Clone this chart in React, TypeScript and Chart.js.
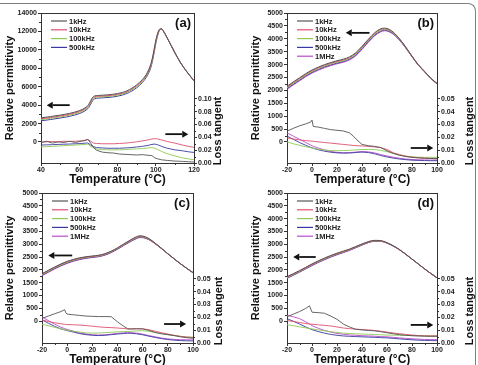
import React, { useEffect, useRef } from "react";
import { Chart, registerables } from "chart.js";
Chart.register(...registerables);

const FONT = "'Liberation Sans', Arial, sans-serif";

const FREQS_4 = ["1kHz", "10kHz", "100kHz", "500kHz"];
const FREQS_5 = ["1kHz", "10kHz", "100kHz", "500kHz", "1MHz"];
const COLORS = ["#555555", "#e0506e", "#8fcb52", "#3b3aa3", "#b94cc9"];

// ---------- Panel (a) ----------
const aT = [40, 45, 50, 55, 60, 63, 65, 66, 67, 68, 70, 75, 80, 85, 90, 93, 95, 97, 98, 99, 100, 101, 102, 103, 104, 106, 108, 110, 113, 116, 120];
const aEps1k = [2620, 2760, 2920, 3110, 3400, 3700, 4100, 4500, 4850, 5000, 5050, 5120, 5260, 5560, 6200, 6780, 7320, 8200, 8900, 9900, 11000, 11800, 12250, 12300, 12050, 11300, 10500, 9700, 8600, 7700, 6650];
const aEps10k = [2520, 2660, 2820, 3010, 3300, 3600, 3980, 4380, 4740, 4900, 4960, 5030, 5170, 5470, 6100, 6680, 7220, 8080, 8780, 9780, 10900, 11720, 12200, 12280, 12040, 11290, 10490, 9690, 8600, 7700, 6650];
const aEps100k = [2420, 2560, 2720, 2910, 3200, 3500, 3870, 4260, 4620, 4800, 4870, 4940, 5080, 5380, 6000, 6580, 7120, 7960, 8660, 9660, 10800, 11650, 12150, 12260, 12030, 11280, 10480, 9680, 8590, 7690, 6640];
const aEps500k = [2300, 2440, 2600, 2790, 3080, 3380, 3740, 4120, 4480, 4680, 4760, 4830, 4970, 5270, 5880, 6460, 7000, 7820, 8520, 9520, 10680, 11560, 12100, 12240, 12020, 11270, 10470, 9670, 8580, 7680, 6630];

const aLT = [40, 43, 46, 49, 52, 55, 58, 61, 63, 64.5, 66, 67.5, 69, 72, 75, 78, 81, 84, 87, 90, 93, 96, 98, 99.5, 101, 103, 106, 110, 114, 117, 120];
const aTan1k = [0.032, 0.034, 0.031, 0.033, 0.032, 0.034, 0.032, 0.034, 0.035, 0.037, 0.031, 0.024, 0.020, 0.017, 0.016, 0.0155, 0.014, 0.0135, 0.013, 0.0125, 0.013, 0.012, 0.0115, 0.008, 0.0065, 0.005, 0.004, 0.003, 0.0025, 0.002, 0.0015];
const aTan10k = [0.0325, 0.033, 0.0335, 0.033, 0.034, 0.0335, 0.034, 0.0345, 0.0355, 0.0365, 0.034, 0.031, 0.0305, 0.030, 0.030, 0.030, 0.0305, 0.031, 0.032, 0.033, 0.0345, 0.036, 0.0375, 0.038, 0.0375, 0.036, 0.0335, 0.031, 0.028, 0.026, 0.0245];
const aTan100k = [0.025, 0.0255, 0.026, 0.0265, 0.027, 0.0275, 0.028, 0.0285, 0.029, 0.0295, 0.026, 0.0235, 0.022, 0.021, 0.0205, 0.0205, 0.0205, 0.021, 0.0215, 0.022, 0.0225, 0.0235, 0.024, 0.023, 0.021, 0.018, 0.0145, 0.011, 0.008, 0.0065, 0.005];
const aTan500k = [0.028, 0.0283, 0.0286, 0.029, 0.0293, 0.0296, 0.030, 0.0303, 0.031, 0.0312, 0.028, 0.0255, 0.024, 0.0235, 0.023, 0.023, 0.023, 0.0235, 0.024, 0.025, 0.026, 0.0275, 0.029, 0.0295, 0.0285, 0.026, 0.023, 0.0205, 0.019, 0.0175, 0.0165];

// ---------- Panel (b) ----------
const bT = [-20, -15, -10, -5, 0, 5, 10, 15, 20, 25, 30, 35, 40, 45, 50, 55, 58, 60, 65, 70, 75, 80, 85, 90, 95, 100];
const bEps1k = [2160, 2330, 2490, 2650, 2790, 2900, 3000, 3080, 3150, 3210, 3300, 3460, 3710, 3980, 4230, 4390, 4410, 4400, 4260, 4000, 3680, 3330, 3000, 2740, 2480, 2270];
const bEps10k = [2130, 2300, 2460, 2620, 2760, 2870, 2970, 3050, 3120, 3180, 3270, 3430, 3680, 3950, 4200, 4360, 4385, 4375, 4240, 3990, 3670, 3320, 2995, 2735, 2475, 2265];
const bEps100k = [2100, 2270, 2430, 2590, 2730, 2840, 2940, 3020, 3090, 3150, 3240, 3400, 3650, 3920, 4170, 4330, 4360, 4350, 4220, 3975, 3660, 3315, 2990, 2730, 2470, 2260];
const bEps500k = [2070, 2240, 2400, 2560, 2700, 2810, 2910, 2990, 3060, 3120, 3210, 3370, 3620, 3890, 4140, 4300, 4335, 4325, 4200, 3960, 3650, 3310, 2985, 2725, 2465, 2255];
const bEps1M = [2040, 2210, 2370, 2530, 2670, 2780, 2880, 2960, 3030, 3090, 3180, 3340, 3590, 3860, 4110, 4270, 4310, 4300, 4180, 3945, 3640, 3305, 2980, 2720, 2460, 2250];

const bLT = [-20, -15, -10, -5, -1, 0, 1, 5, 10, 15, 20, 25, 30, 33, 36, 40, 45, 50, 55, 60, 65, 70, 75, 80, 85, 90, 95, 100];
const bTan1k = [0.0248, 0.027, 0.029, 0.0305, 0.032, 0.0335, 0.0285, 0.028, 0.027, 0.026, 0.0255, 0.025, 0.0235, 0.021, 0.018, 0.0145, 0.0135, 0.013, 0.012, 0.0095, 0.0075, 0.006, 0.005, 0.0044, 0.004, 0.0037, 0.0035, 0.0034];
const bTan10k = [0.0195, 0.0188, 0.018, 0.0175, 0.0171, 0.017, 0.0169, 0.0165, 0.016, 0.0155, 0.015, 0.0145, 0.014, 0.0137, 0.0135, 0.0133, 0.013, 0.0125, 0.012, 0.0105, 0.008, 0.0065, 0.0053, 0.0045, 0.0041, 0.0038, 0.0036, 0.0034];
const bTan100k = [0.0165, 0.015, 0.0138, 0.0127, 0.0119, 0.0117, 0.0115, 0.0108, 0.0101, 0.0097, 0.0096, 0.0097, 0.0099, 0.0101, 0.0103, 0.0105, 0.0106, 0.0105, 0.0098, 0.0088, 0.0075, 0.0063, 0.0054, 0.0048, 0.0045, 0.0044, 0.0044, 0.0044];
const bTan500k = [0.021, 0.0185, 0.016, 0.0138, 0.0122, 0.0118, 0.0115, 0.0103, 0.0092, 0.0084, 0.0079, 0.0077, 0.0078, 0.008, 0.0083, 0.0085, 0.0082, 0.0072, 0.0058, 0.0047, 0.0038, 0.0031, 0.0026, 0.0022, 0.002, 0.0019, 0.0018, 0.0018];
const bTan1M = [0.0235, 0.021, 0.0185, 0.016, 0.014, 0.0135, 0.013, 0.0117, 0.0102, 0.009, 0.0083, 0.008, 0.0081, 0.0083, 0.0086, 0.0089, 0.0087, 0.0079, 0.0066, 0.0055, 0.0045, 0.0037, 0.0031, 0.0027, 0.0025, 0.0024, 0.0023, 0.0023];

// ---------- Panel (c) ----------
const cT = [-20, -15, -10, -5, 0, 5, 10, 15, 20, 25, 30, 35, 40, 45, 50, 55, 58, 60, 65, 70, 75, 80, 85, 90, 95, 100];
const cEps1k = [1850, 1980, 2110, 2230, 2330, 2410, 2470, 2510, 2540, 2570, 2630, 2730, 2860, 3010, 3160, 3290, 3330, 3320, 3220, 3040, 2840, 2630, 2430, 2240, 2060, 1890];
const cEps10k = [1830, 1960, 2090, 2210, 2310, 2390, 2450, 2495, 2525, 2555, 2615, 2715, 2845, 2995, 3140, 3270, 3310, 3302, 3208, 3032, 2836, 2628, 2429, 2239, 2059, 1889];
const cEps100k = [1810, 1940, 2070, 2190, 2290, 2370, 2432, 2478, 2510, 2540, 2600, 2700, 2830, 2980, 3122, 3250, 3292, 3286, 3196, 3025, 2832, 2626, 2428, 2238, 2058, 1888];
const cEps500k = [1790, 1920, 2050, 2170, 2270, 2352, 2415, 2462, 2495, 2525, 2585, 2685, 2815, 2965, 3104, 3232, 3275, 3270, 3185, 3018, 2828, 2624, 2427, 2237, 2057, 1887];
const cEps1M = [1770, 1900, 2030, 2150, 2250, 2334, 2398, 2446, 2480, 2510, 2570, 2670, 2800, 2950, 3088, 3215, 3258, 3255, 3174, 3011, 2824, 2622, 2426, 2236, 2056, 1886];

const cLT = [-20, -15, -10, -5, -2, -1, 0, 5, 10, 15, 20, 25, 30, 35, 40, 45, 48, 50, 55, 60, 65, 70, 75, 80, 85, 90, 95, 100];
const cTan1k = [0.0192, 0.021, 0.0228, 0.0245, 0.026, 0.0235, 0.0225, 0.022, 0.0215, 0.021, 0.0208, 0.0206, 0.0206, 0.0205, 0.0165, 0.013, 0.0112, 0.011, 0.0111, 0.011, 0.0098, 0.0082, 0.0072, 0.0065, 0.0058, 0.0048, 0.0041, 0.0037];
const cTan10k = [0.018, 0.0168, 0.0158, 0.015, 0.0146, 0.0145, 0.0144, 0.0142, 0.014, 0.0136, 0.0131, 0.0126, 0.0122, 0.012, 0.0117, 0.0113, 0.011, 0.0109, 0.0111, 0.0111, 0.0103, 0.0092, 0.008, 0.007, 0.006, 0.0052, 0.0046, 0.0042];
const cTan100k = [0.0146, 0.0135, 0.0122, 0.011, 0.0104, 0.0102, 0.01, 0.0092, 0.0085, 0.0079, 0.0077, 0.0078, 0.0081, 0.0084, 0.0087, 0.0089, 0.009, 0.0091, 0.0094, 0.0096, 0.0091, 0.0082, 0.0073, 0.0065, 0.0058, 0.0052, 0.0048, 0.0046];
const cTan500k = [0.018, 0.0155, 0.013, 0.011, 0.0102, 0.01, 0.0097, 0.0085, 0.0073, 0.0065, 0.006, 0.0058, 0.006, 0.0065, 0.007, 0.0074, 0.0076, 0.0076, 0.0072, 0.0064, 0.0053, 0.0043, 0.0034, 0.0027, 0.0022, 0.0019, 0.0017, 0.0016];
const cTan1M = [0.0205, 0.0175, 0.0147, 0.0123, 0.0113, 0.011, 0.0106, 0.0092, 0.0079, 0.007, 0.0064, 0.0062, 0.0064, 0.0069, 0.0075, 0.0079, 0.0081, 0.0081, 0.0077, 0.0069, 0.0058, 0.0048, 0.0039, 0.0032, 0.0028, 0.0026, 0.0025, 0.0024];

// ---------- Panel (d) ----------
const dT = [-20, -15, -10, -5, 0, 5, 10, 15, 20, 25, 30, 35, 40, 45, 50, 55, 58, 60, 65, 70, 75, 80, 85, 90, 95, 100];
const dEps1k = [1730, 1850, 1970, 2100, 2230, 2350, 2460, 2560, 2650, 2730, 2810, 2910, 3010, 3100, 3150, 3140, 3100, 3060, 2940, 2790, 2610, 2420, 2230, 2040, 1860, 1690];
const dEps10k = [1710, 1830, 1950, 2080, 2210, 2330, 2440, 2540, 2630, 2712, 2794, 2895, 2996, 3088, 3138, 3130, 3093, 3054, 2936, 2787, 2608, 2419, 2229, 2039, 1859, 1689];
const dEps100k = [1695, 1815, 1935, 2063, 2193, 2313, 2423, 2523, 2614, 2697, 2780, 2882, 2984, 3077, 3128, 3122, 3087, 3049, 2932, 2784, 2606, 2418, 2228, 2038, 1858, 1688];
const dEps500k = [1680, 1800, 1920, 2048, 2177, 2297, 2407, 2508, 2600, 2683, 2767, 2870, 2973, 3067, 3119, 3115, 3081, 3044, 2928, 2781, 2604, 2417, 2227, 2037, 1857, 1687];
const dEps1M = [1665, 1785, 1905, 2033, 2162, 2282, 2392, 2493, 2586, 2670, 2755, 2859, 2963, 3058, 3111, 3108, 3076, 3040, 2925, 2778, 2602, 2416, 2226, 2036, 1856, 1686];

const dLT = [-20, -15, -10, -5, -2, -1, 0, 5, 10, 15, 20, 25, 30, 35, 40, 45, 50, 55, 60, 65, 70, 75, 80, 85, 90, 95, 100];
const dTan1k = [0.0205, 0.0225, 0.0245, 0.027, 0.029, 0.0265, 0.024, 0.0237, 0.0232, 0.021, 0.0185, 0.0148, 0.0125, 0.0107, 0.0102, 0.0098, 0.0095, 0.0088, 0.008, 0.0072, 0.0065, 0.006, 0.0057, 0.0055, 0.0053, 0.0052, 0.0052];
const dTan10k = [0.0175, 0.0168, 0.016, 0.0152, 0.0148, 0.0147, 0.0146, 0.0142, 0.0137, 0.0133, 0.0125, 0.0117, 0.0112, 0.0108, 0.0105, 0.0102, 0.0098, 0.0092, 0.0085, 0.0078, 0.0073, 0.0067, 0.0062, 0.0058, 0.0056, 0.0055, 0.0055];
const dTan100k = [0.0142, 0.0135, 0.0126, 0.0118, 0.0113, 0.0111, 0.011, 0.0102, 0.0095, 0.0088, 0.0082, 0.0077, 0.0074, 0.0072, 0.007, 0.0068, 0.0066, 0.0064, 0.0062, 0.0061, 0.006, 0.0059, 0.0058, 0.0057, 0.0056, 0.0056, 0.0056];
const dTan500k = [0.019, 0.017, 0.0148, 0.0125, 0.0112, 0.0108, 0.0104, 0.0089, 0.0077, 0.0067, 0.006, 0.0055, 0.0052, 0.005, 0.0048, 0.0046, 0.0044, 0.0042, 0.004, 0.0036, 0.0032, 0.0028, 0.0025, 0.0022, 0.002, 0.0019, 0.0018];
const dTan1M = [0.0215, 0.0205, 0.019, 0.0165, 0.0148, 0.0143, 0.0135, 0.0115, 0.0098, 0.0085, 0.0075, 0.0068, 0.0063, 0.006, 0.0057, 0.0055, 0.0053, 0.005, 0.0048, 0.0044, 0.004, 0.0036, 0.0033, 0.003, 0.0028, 0.0027, 0.0026];

// ---------- Axis ticks ----------
const aXTicks = [40, 60, 80, 100, 120];
const bXTicks = [-20, 0, 20, 40, 60, 80, 100];
const aYTicks = [0, 2000, 4000, 6000, 8000, 10000, 12000, 14000];
const bYTicks = [0, 500, 1000, 1500, 2000, 2500, 3000, 3500, 4000, 4500, 5000];
const aY2Ticks = [0, 0.02, 0.04, 0.06, 0.08, 0.1];
const bY2Ticks = [0, 0.01, 0.02, 0.03, 0.04, 0.05];

type Arrow = { from: [number, number]; to: [number, number]; axis: string };

const PANELS = [
  {
    tag: "(a)", left: 0, top: 0, w: 239, h: 188, padTop: 13, yWidth: 41, y2Width: 45, rtOffset: 24,
    xMin: 40, xMax: 120, xTicks: aXTicks, yMin: -2280, yMax: 14000, yTicks: aYTicks, y2Max: 0.234, y2Ticks: aY2Ticks,
    labels: FREQS_4, epsT: aT, eps: [aEps1k, aEps10k, aEps100k, aEps500k], lossT: aLT, loss: [aTan1k, aTan10k, aTan100k, aTan500k],
    arrows: [{ from: [55, 4000], to: [43, 4000], axis: "y" }, { from: [105, 0.045], to: [117, 0.045], axis: "y2" }] as Arrow[],
  },
  {
    tag: "(b)", left: 246, top: 0, w: 232, h: 188, padTop: 13, yWidth: 41, y2Width: 41, rtOffset: 33,
    xMin: -20, xMax: 100, xTicks: bXTicks, yMin: -814, yMax: 5000, yTicks: bYTicks, y2Max: 0.117, y2Ticks: bY2Ticks,
    labels: FREQS_5, epsT: bT, eps: [bEps1k, bEps10k, bEps100k, bEps500k, bEps1M], lossT: bLT, loss: [bTan1k, bTan10k, bTan100k, bTan500k, bTan1M],
    arrows: [{ from: [46, 4230], to: [27, 4230], axis: "y" }, { from: [79, 0.0117], to: [97, 0.0117], axis: "y2" }] as Arrow[],
  },
  {
    tag: "(c)", left: 0, top: 186, w: 239, h: 182, padTop: 7, yWidth: 42, y2Width: 46, rtOffset: 26,
    xMin: -20, xMax: 100, xTicks: bXTicks, yMin: -859, yMax: 5000, yTicks: bYTicks, y2Max: 0.117, y2Ticks: bY2Ticks,
    labels: FREQS_5, epsT: cT, eps: [cEps1k, cEps10k, cEps100k, cEps500k, cEps1M], lossT: cLT, loss: [cTan1k, cTan10k, cTan100k, cTan500k, cTan1M],
    arrows: [{ from: [4, 2560], to: [-15, 2560], axis: "y" }, { from: [77, 0.0148], to: [94.5, 0.0148], axis: "y2" }] as Arrow[],
  },
  {
    tag: "(d)", left: 246, top: 186, w: 232, h: 182, padTop: 7, yWidth: 41, y2Width: 41, rtOffset: 33,
    xMin: -20, xMax: 100, xTicks: bXTicks, yMin: -859, yMax: 5000, yTicks: bYTicks, y2Max: 0.117, y2Ticks: bY2Ticks,
    labels: FREQS_5, epsT: dT, eps: [dEps1k, dEps10k, dEps100k, dEps500k, dEps1M], lossT: dLT, loss: [dTan1k, dTan10k, dTan100k, dTan500k, dTan1M],
    arrows: [{ from: [3, 2500], to: [-15, 2500], axis: "y" }, { from: [79, 0.0141], to: [97, 0.0141], axis: "y2" }] as Arrow[],
  },
];

type PanelCfg = (typeof PANELS)[number];

const TICK_FONT = { family: FONT, size: 7, weight: "bold" as const };
const AXIS_COLOR = "#333333";

function makeDecor(cfg: PanelCfg) {
  return {
    id: "decor" + cfg.tag,
    afterDraw(chart: any) {
      const ctx = chart.ctx as CanvasRenderingContext2D;
      const { left, right, top, bottom } = chart.chartArea;
      const xs = chart.scales.x;
      ctx.save();
      // top frame line
      ctx.strokeStyle = AXIS_COLOR;
      ctx.lineWidth = 1;
      ctx.beginPath();
      ctx.moveTo(left, top + 0.5);
      ctx.lineTo(right, top + 0.5);
      ctx.stroke();
      // minor ticks
      const minors = (vals: number[]) => vals.slice(1).map((v, i) => (v + vals[i]) / 2);
      ctx.beginPath();
      for (const v of minors(cfg.xTicks)) {
        const p = Math.round(xs.getPixelForValue(v)) + 0.5;
        ctx.moveTo(p, bottom);
        ctx.lineTo(p, bottom + 2);
      }
      for (const v of minors(cfg.yTicks)) {
        const p = Math.round(chart.scales.y.getPixelForValue(v)) + 0.5;
        ctx.moveTo(left - 2, p);
        ctx.lineTo(left, p);
      }
      for (const v of minors(cfg.y2Ticks)) {
        const p = Math.round(chart.scales.y2.getPixelForValue(v)) + 0.5;
        ctx.moveTo(right, p);
        ctx.lineTo(right + 2, p);
      }
      ctx.stroke();

      // legend
      const ds = chart.data.datasets.filter((d: any) => d.yAxisID === "y");
      ctx.font = `bold 7.5px ${FONT}`;
      ctx.textBaseline = "middle";
      ctx.textAlign = "left";
      ds.forEach((d: any, i: number) => {
        const y = top + 8 + i * 8.8;
        ctx.strokeStyle = d.borderColor;
        ctx.lineWidth = 1.2;
        ctx.beginPath();
        ctx.moveTo(left + 10, y);
        ctx.lineTo(left + 26, y);
        ctx.stroke();
        ctx.fillStyle = "#222";
        ctx.fillText(d.label, left + 28, y + 0.5);
      });

      // panel tag
      ctx.font = `bold 13px ${FONT}`;
      ctx.textAlign = "right";
      ctx.fillStyle = "#111";
      ctx.fillText(cfg.tag, right - 3, top + 10);

      // right axis title
      const y2 = chart.scales.y2;
      const cy = (y2.getPixelForValue(0) + y2.getPixelForValue(cfg.y2Ticks[cfg.y2Ticks.length - 1])) / 2;
      ctx.save();
      ctx.translate(right + cfg.rtOffset, cy);
      ctx.rotate(-Math.PI / 2);
      ctx.font = `bold 11px ${FONT}`;
      ctx.textAlign = "center";
      ctx.textBaseline = "middle";
      ctx.fillText("Loss tangent", 0, 0);
      ctx.restore();

      // arrows
      ctx.strokeStyle = "#111";
      ctx.fillStyle = "#111";
      for (const a of cfg.arrows) {
        const sc = chart.scales[a.axis];
        const x1 = xs.getPixelForValue(a.from[0]);
        const y1 = sc.getPixelForValue(a.from[1]);
        const x2 = xs.getPixelForValue(a.to[0]);
        const y2p = sc.getPixelForValue(a.to[1]);
        const dir = Math.sign(x2 - x1);
        const head = 6;
        ctx.lineWidth = 1.8;
        ctx.beginPath();
        ctx.moveTo(x1, y1);
        ctx.lineTo(x2 - dir * head, y2p);
        ctx.stroke();
        ctx.beginPath();
        ctx.moveTo(x2, y2p);
        ctx.lineTo(x2 - dir * head, y2p - 3.5);
        ctx.lineTo(x2 - dir * head, y2p + 3.5);
        ctx.closePath();
        ctx.fill();
      }
      ctx.restore();
    },
  };
}

function Panel({ cfg }: { cfg: PanelCfg }) {
  const ref = useRef<HTMLCanvasElement>(null);
  useEffect(() => {
    if (!ref.current) return;
    const datasets: any[] = [];
    cfg.labels.forEach((lab, i) => {
      datasets.push({
        label: lab,
        data: cfg.epsT.map((t, j) => ({ x: t, y: cfg.eps[i][j] })),
        borderColor: COLORS[i],
        borderWidth: 1,
        pointRadius: 0,
        yAxisID: "y",
        cubicInterpolationMode: "monotone",
        fill: false,
      });
    });
    cfg.labels.forEach((lab, i) => {
      datasets.push({
        label: lab + " tan",
        data: cfg.lossT.map((t, j) => ({ x: t, y: cfg.loss[i][j] })),
        borderColor: COLORS[i],
        borderWidth: 0.9,
        pointRadius: 0,
        yAxisID: "y2",
        tension: 0,
        fill: false,
      });
    });
    const setTicks = (vals: number[]) => (s: any) => {
      s.ticks = vals.map((v) => ({ value: v }));
    };
    const chart = new Chart(ref.current, {
      type: "line",
      data: { datasets },
      options: {
        animation: false,
        responsive: false,
        devicePixelRatio: 1,
        layout: { padding: { top: cfg.padTop, left: 0, right: 0, bottom: 0 } },
        plugins: { legend: { display: false }, tooltip: { enabled: false } },
        scales: {
          x: {
            type: "linear",
            min: cfg.xMin,
            max: cfg.xMax,
            afterBuildTicks: setTicks(cfg.xTicks),
            afterFit: (s: any) => { s.height = 25; },
            ticks: { font: TICK_FONT, color: "#222", padding: 0, maxRotation: 0, autoSkip: false, callback: (v: any) => String(v) },
            grid: { display: true, drawOnChartArea: false, tickLength: 3, color: AXIS_COLOR },
            border: { display: true, color: AXIS_COLOR, width: 1 },
            title: { display: true, text: "Temperature (°C)", color: "#111", font: { family: FONT, size: 12, weight: "bold", lineHeight: 1.2 }, padding: { top: 0, bottom: 1.5 } },
          },
          y: {
            type: "linear",
            position: "left",
            min: cfg.yMin,
            max: cfg.yMax,
            afterBuildTicks: setTicks(cfg.yTicks),
            afterFit: (s: any) => { s.width = cfg.yWidth; },
            ticks: { font: TICK_FONT, color: "#222", padding: 1, autoSkip: false, callback: (v: any) => String(v) },
            grid: { display: true, drawOnChartArea: false, tickLength: 3, color: AXIS_COLOR },
            border: { display: true, color: AXIS_COLOR, width: 1 },
            title: { display: true, text: "Relative permittivity", color: "#111", font: { family: FONT, size: 11, weight: "bold" }, padding: { top: 3, bottom: 0 } },
          },
          y2: {
            type: "linear",
            position: "right",
            min: 0,
            max: cfg.y2Max,
            afterBuildTicks: setTicks(cfg.y2Ticks),
            afterFit: (s: any) => { s.width = cfg.y2Width; },
            ticks: { font: TICK_FONT, color: "#222", padding: 1, autoSkip: false, callback: (v: any) => Number(v).toFixed(2) },
            grid: { display: true, drawOnChartArea: false, tickLength: 3, color: AXIS_COLOR },
            border: { display: true, color: AXIS_COLOR, width: 1 },
          },
        },
      } as any,
      plugins: [makeDecor(cfg)],
    });
    return () => chart.destroy();
  }, [cfg]);
  return (
    <canvas
      ref={ref}
      width={cfg.w}
      height={cfg.h}
      style={{ position: "absolute", left: cfg.left, top: cfg.top, width: cfg.w, height: cfg.h }}
    />
  );
}

export default function App() {
  return (
    <div style={{ position: "absolute", left: 0, top: 0, width: 478, height: 365, overflow: "hidden", background: "#fff" }}>
      <div
        style={{
          position: "absolute",
          left: -5,
          top: 3,
          width: 480,
          height: 420,
          borderTop: "1px solid #808080",
          borderRight: "1px solid #808080",
          borderTopRightRadius: 8,
        }}
      />
      {PANELS.map((p) => (
        <Panel key={p.tag} cfg={p} />
      ))}
    </div>
  );
}
